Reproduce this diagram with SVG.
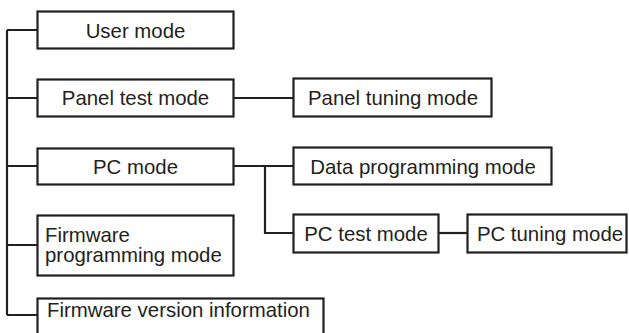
<svg xmlns="http://www.w3.org/2000/svg" width="629" height="333" viewBox="0 0 629 333">
<style>
.box{fill:#fff;stroke:#231f20;stroke-width:2.2}
.t{font-family:"Liberation Sans",Arial,sans-serif;font-size:20.4px;fill:#231f20}
.c{text-anchor:middle}
.ln{fill:none;stroke:#231f20;stroke-width:2.2}
</style>
<rect width="629" height="333" fill="#fff"/>
<g id="connectors">
<path class="ln" d="M7 30V315M7 30H37M7 98H37M7 166H37M7 245H37M7 315H37"/>
<path class="ln" d="M234 98H293"/>
<path class="ln" d="M234 166H293M265 166V233H293"/>
<path class="ln" d="M439 233H467"/>
</g>
<g id="user-mode"><rect class="box" x="37.5" y="11.5" width="196" height="37"/><text class="t c" x="135.5" y="38">User mode</text></g>
<g id="panel-test-mode"><rect class="box" x="37.5" y="79.5" width="196" height="37"/><text class="t c" x="135.5" y="105">Panel test mode</text></g>
<g id="pc-mode"><rect class="box" x="37.5" y="148.5" width="196" height="36"/><text class="t c" x="135.5" y="174">PC mode</text></g>
<g id="firmware-programming-mode"><rect class="box" x="37.5" y="215.5" width="196" height="60"/><text class="t" x="45" y="242">Firmware</text><text class="t" x="45" y="262">programming mode</text></g>
<g id="firmware-version-information"><rect class="box" x="37.5" y="298.5" width="286" height="40"/><text class="t" x="47" y="317">Firmware version information</text></g>
<g id="panel-tuning-mode"><rect class="box" x="293.5" y="78.5" width="198" height="38"/><text class="t c" x="393" y="105">Panel tuning mode</text></g>
<g id="data-programming-mode"><rect class="box" x="293.5" y="147.5" width="258" height="37"/><text class="t c" x="423" y="174">Data programming mode</text></g>
<g id="pc-test-mode"><rect class="box" x="293.5" y="214.5" width="145" height="38"/><text class="t c" x="366" y="241">PC test mode</text></g>
<g id="pc-tuning-mode"><rect class="box" x="467.5" y="214.5" width="159" height="38"/><text class="t c" x="550" y="241">PC tuning mode</text></g>
</svg>
